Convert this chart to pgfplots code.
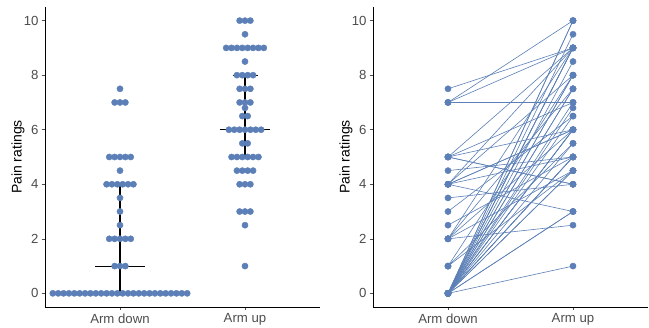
\documentclass[border=0pt]{standalone}
\usepackage{pgfplots}
\pgfplotsset{compat=1.18}
\usepackage{pgfplotstable}
\usepackage{fontspec}
\setmainfont{Liberation Sans}
\definecolor{dotblue}{RGB}{91,127,182}
\definecolor{gray30}{RGB}{77,77,77}

% beeswarm positions (Arm down = 1, Arm up = 2)
\pgfplotstableread{
x y
1 7.5
0.957 7
1 7
1.043 7
0.914 5
0.957 5
1 5
1.043 5
1.086 5
1 4.5
0.8925 4
0.9355 4
0.9785 4
1.0215 4
1.0645 4
1.1075 4
1 3.5
1 3
1 2.5
0.914 2
0.957 2
1 2
1.043 2
1.086 2
0.957 1
1 1
1.043 1
0.4625 0
0.5055 0
0.5485 0
0.5915 0
0.6345 0
0.6775 0
0.7205 0
0.7635 0
0.8065 0
0.8495 0
0.8925 0
0.9355 0
0.9785 0
1.0215 0
1.0645 0
1.1075 0
1.1505 0
1.1935 0
1.2365 0
1.2795 0
1.3225 0
1.3655 0
1.4085 0
1.4515 0
1.4945 0
1.5375 0
}\armdown

\pgfplotstableread{
x y
1.957 10
2 10
2.043 10
2 9.5
1.8495 9
1.8925 9
1.9355 9
1.9785 9
2.0215 9
2.0645 9
2.1075 9
2.1505 9
2 8.5
1.9355 8
1.9785 8
2.0215 8
2.0645 8
1.957 7.5
2 7.5
2.043 7.5
1.957 7
2 7
2.043 7
2 6.8
1.9785 6.5
2.0215 6.5
1.871 6
1.914 6
1.957 6
2 6
2.043 6
2.086 6
2.129 6
1.9785 5.5
2.0215 5.5
1.8925 5
1.9355 5
1.9785 5
2.0215 5
2.0645 5
2.1075 5
1.9355 4.5
1.9785 4.5
2.0215 4.5
2.0645 4.5
1.957 4
2 4
2.043 4
1.957 3
2 3
2.043 3
2 2.5
2 1
}\armup

% paired ratings: down up
\pgfplotstableread{
down up
7 10
0 10
0 10
0 9.5
7.5 9
7 9
5 9
4 9
2 9
0 9
0 9
0 9
0 8.5
4 8
1 8
0 8
0 8
2 7.5
0 7.5
0 7.5
7 7
5 7
0 7
0 6.8
3 6.5
0 6.5
5 6
4 6
4 6
2 6
0 6
0 6
0 6
1 5.5
0 5.5
4.5 5
4 5
2.5 5
0 5
0 5
0 5
2 4.5
1 4.5
0 4.5
0 4.5
5 4
5 4
3.5 4
4 3
0 3
0 3
2 2.5
0 1
}\pairs

\pgfplotsset{
  myax/.style={
    scale only axis, width=275pt, height=300pt,
    xmin=0.4, xmax=2.6, ymin=-0.5, ymax=10.5,
    axis x line*=bottom, axis y line*=left,
    axis line style={black, line width=0.6pt},
    xtick={1,2}, xticklabels={Arm down, Arm up},
    ytick={0,2,4,6,8,10},
    tick align=outside, major tick length=3pt,
    tick style={color=gray30, line width=0.6pt},
    ticklabel style={font=\fontsize{13.2}{14}\selectfont, text=gray30},
    /pgf/number format/assume math mode=true,
    ylabel={Pain ratings},
    ylabel style={font=\fontsize{14}{15}\selectfont, at={(axis description cs:-0.098,0.5)}, anchor=center},
  },
  dots/.style={only marks, mark=*, mark size=3.1pt, mark options={draw=dotblue, fill=dotblue}},
}

\begin{document}
\begin{tikzpicture}
\useasboundingbox (0,0) rectangle (649pt,328pt);
\begin{axis}[myax, at={(45pt,21pt)}, anchor=south west]
  \addplot[dots] table[x=x, y=y] {\armdown};
  \addplot[dots] table[x=x, y=y] {\armup};
  \addplot[black, line width=1.1pt] coordinates {(0.8,1) (1.2,1)};
  \addplot[black, line width=1.1pt] coordinates {(1,0) (1,4)};
  \addplot[black, line width=1.1pt] coordinates {(0.9,0) (1.1,0)};
  \addplot[black, line width=1.1pt] coordinates {(0.9,4) (1.1,4)};
  \addplot[black, line width=1.1pt] coordinates {(1.8,6) (2.2,6)};
  \addplot[black, line width=1.1pt] coordinates {(2,5) (2,8)};
  \addplot[black, line width=1.1pt] coordinates {(1.9,5) (2.1,5)};
  \addplot[black, line width=1.1pt] coordinates {(1.9,8) (2.1,8)};
\end{axis}
\begin{axis}[myax, at={(373pt,21pt)}, anchor=south west]
  \pgfplotstablegetrowsof{\pairs}
  \pgfmathtruncatemacro{\nrows}{\pgfplotsretval-1}
  \pgfplotsforeachungrouped \i in {0,...,\nrows}{
    \pgfplotstablegetelem{\i}{down}\of{\pairs}\let\vd\pgfplotsretval
    \pgfplotstablegetelem{\i}{up}\of{\pairs}\let\vu\pgfplotsretval
    \edef\temp{\noexpand\addplot[dotblue, line width=0.6pt, forget plot] coordinates {(1,\vd) (2,\vu)};}
    \temp
  }
  \addplot[dots] table[x expr=1, y=down] {\pairs};
  \addplot[dots] table[x expr=2, y=up] {\pairs};
\end{axis}
\end{tikzpicture}
\end{document}
